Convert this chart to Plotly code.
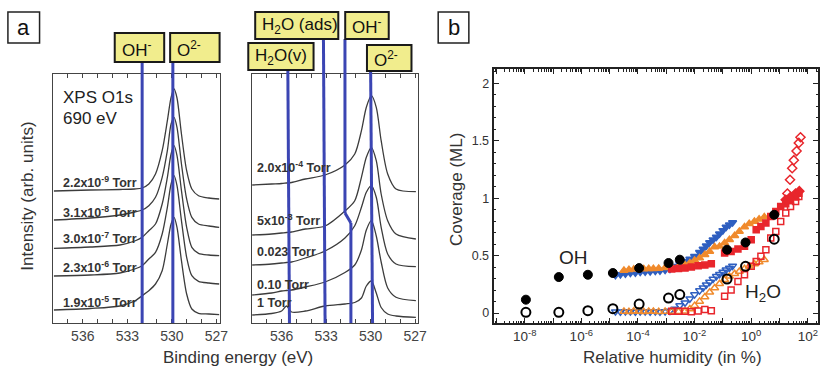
import plotly.graph_objects as go

W, H = 829, 371
FONT = "Liberation Sans, Arial, sans-serif"
BLUE_LINE = "#3b45b3"
SPEC = "#3c3c3c"
YELLOW = "#f1ed8d"

# ---------------- Panel a: XPS O1s spectra (binding energy, eV / intensity arb. units) ----------------
ev_left = [537.95, 535.5, 533.5, 532.5, 532.0, 531.55, 531.1, 530.65, 530.3, 530.05,
           529.85, 529.65, 529.35, 529.0, 528.65, 528.2, 527.5, 526.8]
int_2_2e_9 = [132, 133, 133.5, 134, 135, 139, 149, 172.3, 202.3, 225.7, 234, 225, 189, 152.3, 134, 127.3, 125, 124]
int_3_1e_8 = [103, 105, 108, 111, 113, 117.3, 125.7, 145.7, 172.3, 199, 205.7, 195.7, 159, 124, 105.7, 99, 97, 95.7]
int_3_0e_7 = [74.7, 76, 78, 82, 85.7, 92.3, 99, 119, 145.7, 169, 177.3, 167.3, 132.3, 95.7, 75.7, 69.7, 68, 67.3]
int_2_3e_6 = [47, 48, 50, 54, 57.3, 64, 70.7, 89, 115.7, 139, 147.3, 137.3, 102.3, 65.7, 47.3, 41.7, 40, 39]
int_1_9e_5 = [13, 14.5, 17, 22, 27.3, 32.3, 39, 52.3, 79, 99, 105.7, 95.7, 62.3, 29, 14, 9.7, 9, 8.3]
press_left = ["2.2x10<sup>-9</sup> Torr", "3.1x10<sup>-8</sup> Torr", "3.0x10<sup>-7</sup> Torr",
              "2.3x10<sup>-6</sup> Torr", "1.9x10<sup>-5</sup> Torr"]

ev_right = [538.0, 536.67, 536.0, 535.67, 535.33, 534.4, 533.07, 531.73, 531.07, 530.62,
            530.29, 529.95, 529.62, 529.29, 528.85, 528.29, 526.95]
int_2_0e_4 = [138, 139, 139.5, 140, 140.5, 144, 148, 158, 169, 192.3, 215.7, 227.3, 215.7, 182.3, 149, 134, 131.3]
int_5e_3 = [88, 89, 90, 90.5, 91, 94, 97, 112, 122.3, 145.7, 165.7, 175.7, 162.3, 129, 102.3, 89, 84]
int_0_023 = [58, 59, 60, 60.5, 61, 65, 72, 85, 97.3, 115.7, 130.7, 137.3, 125.7, 95.7, 69, 59, 56.3]
int_0_10 = [28, 30, 32, 32.5, 33, 36, 41, 50.5, 58, 73, 93, 102.3, 87, 61, 35, 25.7, 22.3]
int_1 = [8, 9.5, 12, 17, 11, 12, 17, 19, 20.5, 25, 37, 42, 30, 15.5, 9, 7, 5.7]
press_right = ["2.0x10<sup>-4</sup> Torr", "5x10<sup>-3</sup> Torr", "0.023 Torr", "0.10 Torr", "1 Torr"]

# reference binding energies (eV)
ref_left_names = ["OH<sup>-</sup>", "O<sup>2-</sup>"]
ref_left_ev = [532.0, 529.93]
ref_right_names = ["H<sub>2</sub>O(v)", "H<sub>2</sub>O (ads)", "OH<sup>-</sup>", "O<sup>2-</sup>"]
ref_right_ev_top = [535.58, 533.18, 531.73, 530.0]
ref_right_ev_bottom = [535.47, 533.07, 531.33, 529.87]

# ---------------- Panel b: coverage vs relative humidity ----------------
rh_circles = [1.1e-8, 1.6e-7, 1.7e-6, 1.3e-5, 1.1e-4, 1.2e-3, 3.0e-3, 0.14, 0.63, 6.5]
oh_circles = [0.116, 0.313, 0.333, 0.348, 0.391, 0.435, 0.464, 0.551, 0.614, 0.855]
h2o_circles = [0.006, 0.006, 0.020, 0.038, 0.078, 0.13, 0.16, 0.296, 0.406, 0.643]

rh_blue = [1.6e-5, 2.4e-5, 3.6e-5, 5.4e-5, 8.1e-5, 1.2e-4, 1.8e-4, 2.7e-4, 4.1e-4, 6.0e-4, 9.1e-4,
           1.35e-3, 2.0e-3, 3.0e-3, 4.6e-3, 6.8e-3, 1.0e-2, 1.5e-2, 2.0e-2, 2.6e-2, 3.4e-2, 4.5e-2,
           5.9e-2, 7.6e-2, 0.10, 0.13, 0.17, 0.22]
oh_blue = [0.328, 0.336, 0.342, 0.348, 0.351, 0.357, 0.359, 0.362, 0.365, 0.368, 0.374, 0.383, 0.406,
           0.429, 0.449, 0.470, 0.493, 0.528, 0.557, 0.586, 0.614, 0.638, 0.661, 0.690, 0.719, 0.748,
           0.768, 0.788]
h2o_blue = [0.012, 0.010, 0.014, 0.012, 0.010, 0.013, 0.012, 0.010, 0.012, 0.011, 0.013, 0.018, 0.035,
            0.065, 0.090, 0.125, 0.160, 0.195, 0.220, 0.246, 0.270, 0.295, 0.319, 0.338, 0.357, 0.377,
            0.392, 0.410]

rh_orange = [3.2e-5, 4.8e-5, 7.1e-5, 1.07e-4, 1.6e-4, 2.4e-4, 3.5e-4, 5.4e-4, 9.1e-4, 1.55e-3, 2.7e-3,
             4.6e-3, 6.8e-3, 1.0e-2, 1.5e-2, 2.3e-2, 3.4e-2, 5.1e-2, 7.6e-2, 0.115, 0.17, 0.26, 0.38,
             0.58, 0.85, 1.3, 1.9, 2.9]
oh_orange = [0.371, 0.377, 0.380, 0.383, 0.383, 0.386, 0.386, 0.388, 0.394, 0.400, 0.406, 0.417, 0.435,
             0.458, 0.478, 0.507, 0.536, 0.574, 0.580, 0.609, 0.638, 0.672, 0.710, 0.748, 0.777, 0.797,
             0.817, 0.835]
h2o_orange = [0.014, 0.012, 0.015, 0.013, 0.012, 0.014, 0.013, 0.012, 0.014, 0.013, 0.012, 0.015, 0.035,
              0.064, 0.101, 0.139, 0.180, 0.217, 0.255, 0.290, 0.319, 0.342, 0.362, 0.386, 0.406, 0.426,
              0.443, 0.464]

rh_red = [1.55e-3, 2.7e-3, 4.6e-3, 7.7e-3, 1.34e-2, 2.3e-2, 3.9e-2, 0.115, 0.195, 0.34, 0.58, 1.0, 1.5,
          2.2, 3.3, 4.9, 7.4, 11, 16.6, 24.5, 37, 48]
oh_red = [0.383, 0.388, 0.391, 0.400, 0.412, 0.417, 0.429, 0.522, 0.536, 0.557, 0.580, 0.638, 0.725,
          0.754, 0.783, 0.841, 0.884, 0.928, 0.951, 0.980, 1.009, 1.043]
h2o_red = [0.015, 0.015, 0.015, 0.012, 0.017, 0.030, 0.020, 0.145, 0.200, 0.275, 0.333, 0.406, 0.449,
           0.493, 0.551, 0.652, 0.710, 0.797, 0.870, 0.928, 0.971, 1.014]

rh_diamond_open = [19, 23.5, 28, 32, 40, 48, 55]
h2o_diamond = [1.04, 1.16, 1.26, 1.33, 1.41, 1.48, 1.53]
rh_diamond_fill = [16.6, 24.5, 37, 50]
oh_diamond = [0.985, 1.01, 1.04, 1.06]

x_decades = [1e-9, 1e-8, 1e-7, 1e-6, 1e-5, 1e-4, 1e-3, 1e-2, 1e-1, 1e0, 1e1, 1e2]
x_decade_labels = ["", "10<sup>-8</sup>", "", "10<sup>-6</sup>", "", "10<sup>-4</sup>", "",
                   "10<sup>-2</sup>", "", "10<sup>0</sup>", "", "10<sup>2</sup>"]
y_ticks_b = [0, 0.5, 1, 1.5, 2]
y_tick_labels_b = ["0", "0.5", "1", "1.5", "2"]
ev_ticks = [538, 537, 536, 535, 534, 533, 532, 531, 530, 529, 528, 527]
ev_tick_labels = ["", "", "536", "", "", "533", "", "", "530", "", "", "527"]


def fx(px):
    return px / W


def fy(py):
    return 1 - py / H


fig = go.Figure()

for ys in [int_2_2e_9, int_3_1e_8, int_3_0e_7, int_2_3e_6, int_1_9e_5]:
    fig.add_trace(go.Scatter(x=ev_left, y=ys, mode="lines", xaxis="x", yaxis="y",
                             line=dict(color=SPEC, width=1.3, shape="spline", smoothing=0.8)))
for ys in [int_2_0e_4, int_5e_3, int_0_023, int_0_10, int_1]:
    fig.add_trace(go.Scatter(x=ev_right, y=ys, mode="lines", xaxis="x2", yaxis="y2",
                             line=dict(color=SPEC, width=1.3, shape="spline", smoothing=0.8)))

BLUE = "#2f5fc0"
ORANGE = "#f08a2c"
RED = "#e8262c"


def pts(x, y, symbol, color, size, lw=1.5):
    fig.add_trace(go.Scatter(x=x, y=y, mode="markers", xaxis="x3", yaxis="y3",
                             marker=dict(symbol=symbol, size=size, color=color,
                                         line=dict(color=color, width=lw))))


pts(rh_blue, h2o_blue, "triangle-down-open", BLUE, 7)
pts(rh_orange, h2o_orange, "triangle-up-open", ORANGE, 7)
pts(rh_red, h2o_red, "square-open", RED, 6)
pts(rh_diamond_open, h2o_diamond, "diamond-open", RED, 7)
pts(rh_blue, oh_blue, "triangle-down", BLUE, 7)
pts(rh_orange, oh_orange, "triangle-up", ORANGE, 7)
pts(rh_red, oh_red, "square", RED, 6)
pts(rh_diamond_fill, oh_diamond, "diamond", RED, 7)
pts(rh_circles, h2o_circles, "circle-open", "black", 9, 2)
pts(rh_circles, oh_circles, "circle", "black", 9, 1)

axis_a = dict(range=[537.98, 526.78], tickmode="array", tickvals=ev_ticks, ticktext=ev_tick_labels,
              ticks="inside", ticklen=4, tickcolor="#444", tickwidth=1.2, showline=True,
              linecolor="#444", linewidth=1.4, mirror="ticks", showgrid=False, zeroline=False,
              tickfont=dict(family=FONT, size=14, color="#444"))
yaxis_a = dict(range=[0, 249], showticklabels=False, ticks="", showline=True, linecolor="#444",
               linewidth=1.4, mirror=True, showgrid=False, zeroline=False)

minor_x = [m * 10.0 ** e for e in range(-10, 3) for m in range(2, 10)]

fig.update_layout(
    width=W, height=H, margin=dict(l=0, r=0, t=0, b=0),
    paper_bgcolor="white", plot_bgcolor="white", showlegend=False,
    font=dict(family=FONT, color="#333"),
    xaxis=dict(domain=[fx(54), fx(222)], anchor="y", **axis_a),
    yaxis=dict(domain=[fy(323), fy(74)], anchor="x", **yaxis_a),
    xaxis2=dict(domain=[fx(255), fx(423)], anchor="y2", **axis_a),
    yaxis2=dict(domain=[fy(323), fy(74)], anchor="x2", **yaxis_a),
    xaxis3=dict(domain=[fx(499), fx(827)], anchor="y3", type="log", range=[-9.1, 2.36],
                tickmode="array", tickvals=x_decades, ticktext=x_decade_labels,
                ticks="inside", ticklen=5, tickwidth=1.3, tickcolor="#222",
                minor=dict(tickmode="array", tickvals=minor_x, ticks="inside", ticklen=2.5,
                           tickwidth=1, tickcolor="#222"),
                showline=True, linecolor="#222", linewidth=2, mirror="ticks",
                showgrid=False, zeroline=False,
                tickfont=dict(family=FONT, size=13.5, color="#333")),
    yaxis3=dict(domain=[fy(323), fy(69)], anchor="x3", range=[-0.087, 2.124],
                tickmode="array", tickvals=y_ticks_b, ticktext=y_tick_labels_b,
                ticks="inside", ticklen=5, tickwidth=1.3, tickcolor="#222",
                minor=dict(dtick=0.1, ticks="inside", ticklen=2.5, tickwidth=1, tickcolor="#222"),
                showline=True, linecolor="#222", linewidth=2, mirror="ticks",
                showgrid=False, zeroline=False,
                tickfont=dict(family=FONT, size=12.5, color="#333")),
)

shapes = []
annotations = []

# reference lines, panel a left
for ev in ref_left_ev:
    shapes.append(dict(type="line", xref="x", yref="paper", x0=ev, x1=ev, y0=fy(323), y1=fy(62),
                       line=dict(color=BLUE_LINE, width=3)))
# reference lines, panel a right
tops = [70, 39, 39, 71]
for i, (et, eb) in enumerate(zip(ref_right_ev_top, ref_right_ev_bottom)):
    if i == 2:
        shapes.append(dict(type="line", xref="x2", yref="paper", x0=et, x1=et, y0=fy(39), y1=fy(213),
                           line=dict(color=BLUE_LINE, width=3)))
        shapes.append(dict(type="line", xref="x2", yref="paper", x0=et, x1=eb, y0=fy(213), y1=fy(223),
                           line=dict(color=BLUE_LINE, width=3)))
        shapes.append(dict(type="line", xref="x2", yref="paper", x0=eb, x1=eb, y0=fy(223), y1=fy(323),
                           line=dict(color=BLUE_LINE, width=3)))
    else:
        shapes.append(dict(type="line", xref="x2", yref="paper", x0=et, x1=eb, y0=fy(tops[i]), y1=fy(323),
                           line=dict(color=BLUE_LINE, width=3)))

# yellow label boxes (left px, top px, right px, bottom px, text-left px)
boxes = [
    (116, 33, 166, 62, 121, ref_left_names[0]),
    (172, 33, 222, 62, 177, ref_left_names[1]),
    (251, 43, 317, 70, 256, ref_right_names[0]),
    (258, 12, 342, 39, 263, ref_right_names[1]),
    (349, 12, 393, 39, 354, ref_right_names[2]),
    (371, 45, 416, 71, 376, ref_right_names[3]),
]
for x0, y0, x1, y1, tx, txt in boxes:
    shapes.append(dict(type="rect", xref="paper", yref="paper", x0=fx(x0), x1=fx(x1), y0=fy(y1), y1=fy(y0),
                       fillcolor=YELLOW, line=dict(color="#1a1a1a", width=2), layer="above"))
    annotations.append(dict(x=fx(tx), y=fy((y0 + y1) / 2 + 1), xref="paper", yref="paper", text=txt,
                            showarrow=False, xanchor="left", yanchor="middle",
                            font=dict(family=FONT, size=17, color="#111")))

# panel letters
for x0, x1, letter in [(8, 40, "a"), (443, 474, "b")]:
    shapes.append(dict(type="rect", xref="paper", yref="paper", x0=fx(x0), x1=fx(x1), y0=fy(43), y1=fy(12),
                       fillcolor="white", line=dict(color="#222", width=1.5)))
    annotations.append(dict(x=fx((x0 + x1) / 2), y=fy(27), xref="paper", yref="paper", text=letter,
                            showarrow=False, xanchor="center", yanchor="middle",
                            font=dict(family=FONT, size=22, color="#111")))

# pressure labels
for txt, yp in zip(press_left, [181.7, 211.7, 238.3, 266.7, 301.7]):
    annotations.append(dict(x=fx(62), y=fy(yp), xref="paper", yref="paper", text="<b>" + txt + "</b>",
                            showarrow=False, xanchor="left", yanchor="middle",
                            font=dict(family=FONT, size=12.5, color="#333")))
for txt, yp in zip(press_right, [166.7, 220, 251.7, 285, 303.3]):
    annotations.append(dict(x=fx(258), y=fy(yp), xref="paper", yref="paper", text="<b>" + txt + "</b>",
                            showarrow=False, xanchor="left", yanchor="middle",
                            font=dict(family=FONT, size=12.5, color="#333")))

# other texts
annotations += [
    dict(x=fx(62), y=fy(98), xref="paper", yref="paper", text="XPS O1s", showarrow=False,
         xanchor="left", yanchor="middle", font=dict(family=FONT, size=17, color="#222")),
    dict(x=fx(62), y=fy(118), xref="paper", yref="paper", text="690 eV", showarrow=False,
         xanchor="left", yanchor="middle", font=dict(family=FONT, size=17, color="#222")),
    dict(x=fx(27), y=fy(196), xref="paper", yref="paper", text="Intensity (arb. units)", showarrow=False,
         textangle=-90, xanchor="center", yanchor="middle", font=dict(family=FONT, size=17, color="#333")),
    dict(x=fx(241), y=fy(357), xref="paper", yref="paper", text="Binding energy (eV)", showarrow=False,
         xanchor="center", yanchor="middle", font=dict(family=FONT, size=17, color="#333")),
    dict(x=fx(461), y=fy(189), xref="paper", yref="paper", text="Coverage (ML)", showarrow=False,
         textangle=-90, xanchor="center", yanchor="middle", font=dict(family=FONT, size=17, color="#333")),
    dict(x=fx(680), y=fy(357), xref="paper", yref="paper", text="Relative humidity (in %)", showarrow=False,
         xanchor="center", yanchor="middle", font=dict(family=FONT, size=17, color="#333")),
    dict(x=fx(580), y=fy(257), xref="paper", yref="paper", text="OH", showarrow=False,
         xanchor="center", yanchor="middle", font=dict(family=FONT, size=19, color="#222")),
    dict(x=fx(771), y=fy(293), xref="paper", yref="paper", text="H<sub>2</sub>O", showarrow=False,
         xanchor="center", yanchor="middle", font=dict(family=FONT, size=19, color="#222")),
]

fig.update_layout(shapes=shapes, annotations=annotations)
fig.write_html("out.html")
